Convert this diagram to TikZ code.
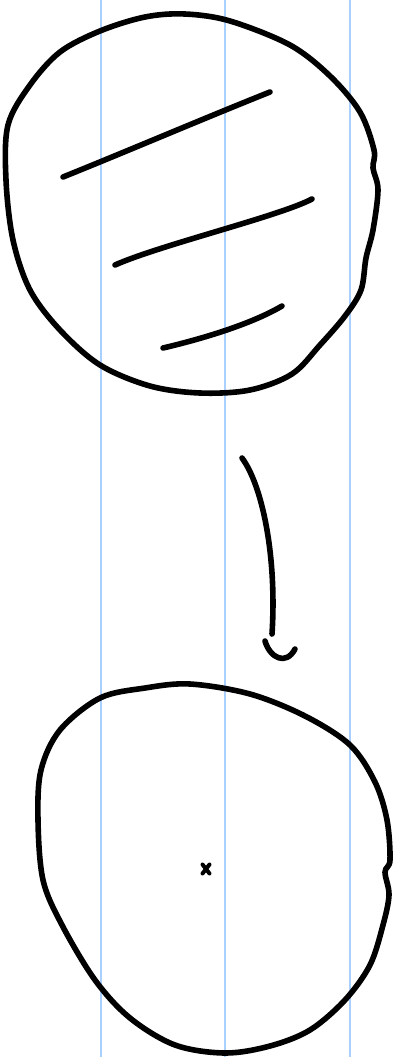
\documentclass[tikz,border=0pt]{standalone}
\begin{document}
\begin{tikzpicture}[x=1pt,y=-1pt,
  ink/.style={line width=5.6pt,line cap=round,line join=round,black},
  guide/.style={line width=1.8pt,color={rgb,255:red,170;green,208;blue,255}}]
\useasboundingbox (0,0) rectangle (401,1057);
\fill[white] (0,0) rectangle (401,1057);
% guide lines
\foreach \gx in {101,225,350} \draw[guide] (\gx,0) -- (\gx,1057);
% top circle
\draw[ink] plot[smooth cycle,tension=0.55] coordinates {
 (185,14) (230,21) (290,45) (330,76) (360,112) (374,150) (373,168) (378,190)
 (373,230) (366,258) (361,290) (345,316) (320,345) (292,374) (250,390) (200,393)
 (150,386) (100,365) (60,330) (30,290) (13,240) (6,180) (8,125) (30,85) (60,52) (100,31) (145,17)};
% hatch strokes
\draw[ink] (63,177) .. controls (130,150) and (200,120) .. (270,92);
\draw[ink] (115,265) .. controls (160,245) and (280,216) .. (312,199);
\draw[ink] (163,348) .. controls (210,337) and (255,322) .. (282,306);
% arrow
\coordinate (as) at (242,458);
\coordinate (ae) at (272,634);
\draw[ink] (as) .. controls (262,485) and (277,555) .. (ae);
\coordinate (h1) at (265,641);
\coordinate (h2) at (295,649);
\draw[ink] (h1) .. controls (270,658) and (286,666) .. (h2);
% bottom circle
\draw[ink] plot[smooth cycle,tension=0.55] coordinates {
 (190,684) (250,694) (305,716) (350,745) (375,782) (387,820) (390,860) (385,872) (389,895)
 (383,925) (370,965) (345,1000) (310,1030) (270,1046) (225,1053) (175,1045) (130,1018)
 (95,980) (62,925) (43,880) (38,820) (41,770) (60,730) (100,698) (145,688)};
% cross mark
\coordinate (cm) at (206,869);
\draw[line width=4pt,line cap=round] ([shift={(-3.5,-4.5)}]cm) -- ([shift={(3.5,4.5)}]cm);
\draw[line width=4pt,line cap=round] ([shift={(3.5,-4.5)}]cm) -- ([shift={(-3.5,4.5)}]cm);
\end{tikzpicture}
\end{document}
